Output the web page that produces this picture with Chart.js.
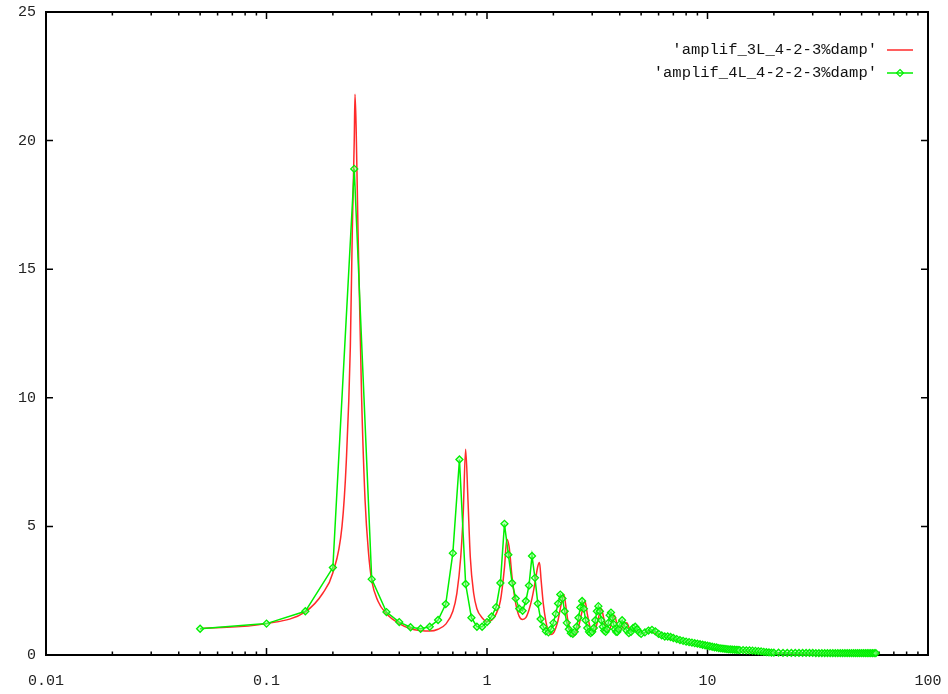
<!DOCTYPE html>
<html>
<head>
<meta charset="utf-8">
<script src="https://cdn.jsdelivr.net/npm/chart.js@4.4.1/dist/chart.umd.min.js"></script>
<style>
  html, body { margin: 0; padding: 0; background: #fff; }
  #wrap { position: relative; width: 948px; height: 694px; }
</style>
</head>
<body>
<div id="wrap"><canvas id="amp"></canvas></div>
<script>
// curvas de amplificacion, leidas a ojo de la grafica
const legendLabels = ["'amplif_3L_4-2-3%damp'", "'amplif_4L_4-2-2-3%damp'"];
const yTicks = [0, 5, 10, 15, 20, 25];
const xDecades = [0.01, 0.1, 1, 10, 100];

// 3L (roja, solo linea)
const redFreq = [0.05, 0.10, 0.15, 0.18, 0.20, 0.22, 0.23, 0.24, 0.245, 0.25, 0.252, 0.255, 0.26, 0.27, 0.28, 0.29,
  0.30, 0.32, 0.35, 0.40, 0.45, 0.50, 0.55, 0.60, 0.65, 0.70, 0.73, 0.76, 0.78, 0.80, 0.82, 0.84, 0.87, 0.90, 0.95,
  1.00, 1.05, 1.10, 1.15, 1.20, 1.23, 1.26, 1.30, 1.35, 1.40, 1.45, 1.50, 1.55, 1.60, 1.65, 1.70, 1.73, 1.76, 1.80,
  1.85, 1.90, 1.95, 2.00, 2.05, 2.10, 2.15, 2.20, 2.23, 2.27, 2.32, 2.40, 2.45, 2.50, 2.60, 2.70, 2.78, 2.85, 2.95,
  3.05, 3.15, 3.25, 3.30, 3.38, 3.50, 3.60, 3.70, 3.78, 3.90, 4.00, 4.20, 4.30, 4.50, 4.70, 5.00, 5.50, 6.00, 7.00,
  8.00, 10, 12, 15, 20, 30, 45, 60];
const redAmp = [1.02, 1.22, 1.68, 2.40, 3.20, 5.00, 7.50, 12.0, 16.5, 20.0, 21.8, 20.5, 16.5, 10.0, 6.00, 4.00,
  2.90, 2.10, 1.60, 1.22, 1.02, 0.95, 0.93, 1.00, 1.20, 1.70, 2.40, 3.80, 5.50, 8.00, 6.00, 3.80, 2.40, 1.80, 1.45,
  1.30, 1.35, 1.60, 2.10, 3.40, 4.50, 4.20, 3.00, 2.00, 1.50, 1.38, 1.45, 1.75, 2.20, 2.80, 3.45, 3.60, 2.90, 2.00,
  1.30, 0.90, 0.80, 0.85, 1.05, 1.35, 1.80, 2.20, 2.35, 2.00, 1.40, 0.90, 0.75, 0.78, 1.10, 1.70, 2.10, 1.60, 1.00,
  0.85, 1.20, 1.65, 1.80, 1.45, 0.95, 1.00, 1.35, 1.55, 1.15, 0.95, 1.20, 1.25, 0.90, 1.00, 0.85, 0.90, 0.80, 0.62,
  0.50, 0.35, 0.22, 0.14, 0.08, 0.05, 0.05, 0.05];

// 4L (verde, linea con puntos)
const greenFreq = [0.05, 0.10, 0.15, 0.20, 0.25, 0.30, 0.35, 0.40, 0.45, 0.50, 0.55, 0.60, 0.65, 0.70, 0.75, 0.80,
  0.85, 0.90, 0.95, 1.00, 1.05, 1.10, 1.15, 1.20, 1.25, 1.30, 1.35, 1.40, 1.45, 1.50, 1.55, 1.60, 1.65, 1.70, 1.75,
  1.80, 1.85, 1.90, 1.95, 2.00, 2.05, 2.10, 2.15, 2.20, 2.25, 2.30, 2.35, 2.40, 2.45, 2.50, 2.55, 2.60, 2.65, 2.70,
  2.75, 2.80, 2.85, 2.90, 2.95, 3.00, 3.05, 3.10, 3.15, 3.20, 3.25, 3.30, 3.35, 3.40, 3.45, 3.50, 3.55, 3.60, 3.65,
  3.70, 3.75, 3.80, 3.85, 3.90, 3.95, 4.00, 4.1, 4.2, 4.3, 4.4, 4.5, 4.6, 4.7, 4.8, 4.9, 5.0, 5.2, 5.4, 5.6, 5.8,
  6.0, 6.2, 6.4, 6.6, 6.8, 7.0, 7.25, 7.5, 7.75, 8.0, 8.25, 8.5, 8.75, 9.0, 9.25, 9.5, 9.75,
  10, 10.25, 10.5, 10.75, 11, 11.25, 11.5, 11.75, 12, 12.25, 12.5, 12.75, 13, 13.25, 13.5, 13.75, 14, 14.5, 15,
  15.5, 16, 16.5, 17, 17.5, 18, 18.5, 19, 19.5, 20, 21, 22, 23, 24, 25, 26, 27, 28, 29, 30, 31, 32, 33, 34, 35,
  36, 37, 38, 39, 40, 41, 42, 43, 44, 45, 46, 47, 48, 49, 50, 51, 52, 53, 54, 55, 56, 57, 58, 59, 60];
const greenAmp = [1.02, 1.22, 1.70, 3.40, 18.9, 2.95, 1.67, 1.28, 1.08, 1.02, 1.10, 1.36, 1.98, 3.96, 7.60, 2.76,
  1.45, 1.10, 1.10, 1.28, 1.50, 1.86, 2.80, 5.10, 3.90, 2.80, 2.20, 1.80, 1.72, 2.10, 2.70, 3.85, 3.00, 2.00, 1.40,
  1.10, 0.92, 0.88, 1.00, 1.25, 1.60, 2.00, 2.35, 2.20, 1.70, 1.25, 1.00, 0.85, 0.82, 0.90, 1.10, 1.45, 1.85, 2.10,
  1.80, 1.35, 1.05, 0.90, 0.85, 0.90, 1.05, 1.35, 1.70, 1.90, 1.70, 1.35, 1.10, 0.95, 0.90, 1.00, 1.25, 1.55, 1.65,
  1.45, 1.20, 1.00, 0.90, 0.90, 1.00, 1.20, 1.35, 1.15, 0.95, 0.85, 0.90, 1.05, 1.10, 1.00, 0.88, 0.82, 0.88, 0.95,
  0.98, 0.92, 0.82, 0.76, 0.72, 0.72, 0.70, 0.66, 0.62, 0.58, 0.55, 0.52, 0.50, 0.48, 0.46, 0.44, 0.42, 0.40,
  0.38, 0.36, 0.34, 0.32, 0.30, 0.29, 0.27, 0.26, 0.25, 0.24, 0.23, 0.22, 0.22, 0.21, 0.21, 0.20, 0.20, 0.19, 0.19,
  0.18, 0.18, 0.17, 0.16, 0.15, 0.14, 0.12, 0.11, 0.10, 0.09, 0.09, 0.09, 0.08, 0.08, 0.08, 0.08, 0.08, 0.08, 0.08, 0.08,
  0.08, 0.07, 0.07, 0.07, 0.07, 0.07, 0.07, 0.07, 0.07, 0.07, 0.07, 0.07, 0.07, 0.07, 0.07, 0.07, 0.07, 0.07, 0.07,
  0.07, 0.07, 0.07, 0.07, 0.07, 0.07, 0.07, 0.07, 0.07, 0.07];

const RED = "#ff2a2a";
const GREEN = "#00f000";
const FONT = "'Liberation Mono', 'DejaVu Sans Mono', monospace";

function pts(xs, ys){
  return xs.map((x, i) => ({ x, y: ys[i] }));
}

// marco y marcas hacia dentro, al estilo gnuplot
const frame = {
  id: "frame",
  beforeDatasetsDraw(chart){
    const { ctx, chartArea: a, scales: { x, y } } = chart;
    ctx.save();
    ctx.strokeStyle = "#000";
    ctx.lineWidth = 2;
    ctx.strokeRect(a.left, a.top, a.right - a.left, a.bottom - a.top);
    ctx.lineWidth = 1.5;
    ctx.beginPath();
    yTicks.forEach(v => {
      const py = y.getPixelForValue(v);
      ctx.moveTo(a.left, py); ctx.lineTo(a.left + 7, py);
      ctx.moveTo(a.right, py); ctx.lineTo(a.right - 7, py);
    });
    xDecades.forEach((d, i) => {
      const px = x.getPixelForValue(d);
      ctx.moveTo(px, a.bottom); ctx.lineTo(px, a.bottom - 7);
      ctx.moveTo(px, a.top); ctx.lineTo(px, a.top + 7);
      if (i === xDecades.length - 1) return;
      for (let m = 2; m <= 9; m++){
        const mx = x.getPixelForValue(d * m);
        ctx.moveTo(mx, a.bottom); ctx.lineTo(mx, a.bottom - 3.5);
        ctx.moveTo(mx, a.top); ctx.lineTo(mx, a.top + 3.5);
      }
    });
    ctx.stroke();
    ctx.restore();
  }
};

// leyenda arriba a la derecha: texto alineado a la derecha y muestra de linea
const keyBox = {
  id: "keyBox",
  afterDatasetsDraw(chart){
    const { ctx } = chart;
    const rows = [{ y: 50, color: RED, mark: false }, { y: 73, color: GREEN, mark: true }];
    ctx.save();
    ctx.font = "15.5px " + FONT;
    ctx.fillStyle = "#111";
    ctx.textAlign = "right";
    ctx.textBaseline = "middle";
    rows.forEach((r, i) => {
      ctx.fillText(legendLabels[i], 877, r.y);
      ctx.strokeStyle = r.color;
      ctx.lineWidth = 1.5;
      ctx.beginPath();
      ctx.moveTo(887, r.y); ctx.lineTo(913, r.y);
      ctx.stroke();
      if (r.mark){
        ctx.lineWidth = 1.2;
        ctx.beginPath();
        ctx.moveTo(900, r.y - 3.5); ctx.lineTo(903.5, r.y); ctx.lineTo(900, r.y + 3.5); ctx.lineTo(896.5, r.y);
        ctx.closePath();
        ctx.stroke();
      }
    });
    ctx.restore();
  }
};

new Chart(document.getElementById("amp"), {
  type: "line",
  data: {
    datasets: [
      {
        label: legendLabels[1],
        data: pts(greenFreq, greenAmp),
        borderColor: GREEN,
        borderWidth: 1.5,
        pointStyle: "rectRot",
        pointRadius: 3.5,
        pointBorderWidth: 1.3,
        pointBorderColor: GREEN,
        pointBackgroundColor: "rgba(140,255,140,0.45)",
        order: 0,
        clip: 8
      },
      {
        label: legendLabels[0],
        data: pts(redFreq, redAmp),
        borderColor: RED,
        borderWidth: 1.5,
        pointRadius: 0,
        cubicInterpolationMode: "monotone",
        order: 1,
        clip: 8
      }
    ]
  },
  plugins: [frame, keyBox],
  options: {
    responsive: true,
    maintainAspectRatio: false,
    devicePixelRatio: 1,
    animation: false,
    layout: { padding: { top: 12, right: 20, left: 0, bottom: 0 } },
    plugins: { legend: { display: false }, tooltip: { enabled: false } },
    scales: {
      x: {
        type: "logarithmic",
        min: 0.01,
        max: 100,
        afterFit: s => { s.height = 39; s.paddingLeft = 0; s.paddingRight = 0; },
        afterBuildTicks: s => { s.ticks = xDecades.map(v => ({ value: v })); },
        ticks: {
          color: "#222",
          font: { family: FONT, size: 15 },
          padding: 17,
          maxRotation: 0,
          autoSkip: false,
          callback: v => String(v)
        },
        grid: { display: false, drawTicks: false },
        border: { display: false }
      },
      y: {
        min: 0,
        max: 25,
        afterFit: s => { s.width = 46; s.paddingTop = 0; s.paddingBottom = 0; },
        afterBuildTicks: s => { s.ticks = yTicks.map(v => ({ value: v })); },
        ticks: {
          color: "#222",
          font: { family: FONT, size: 15 },
          padding: 10
        },
        grid: { display: false, drawTicks: false },
        border: { display: false }
      }
    }
  }
});
</script>
</body>
</html>
